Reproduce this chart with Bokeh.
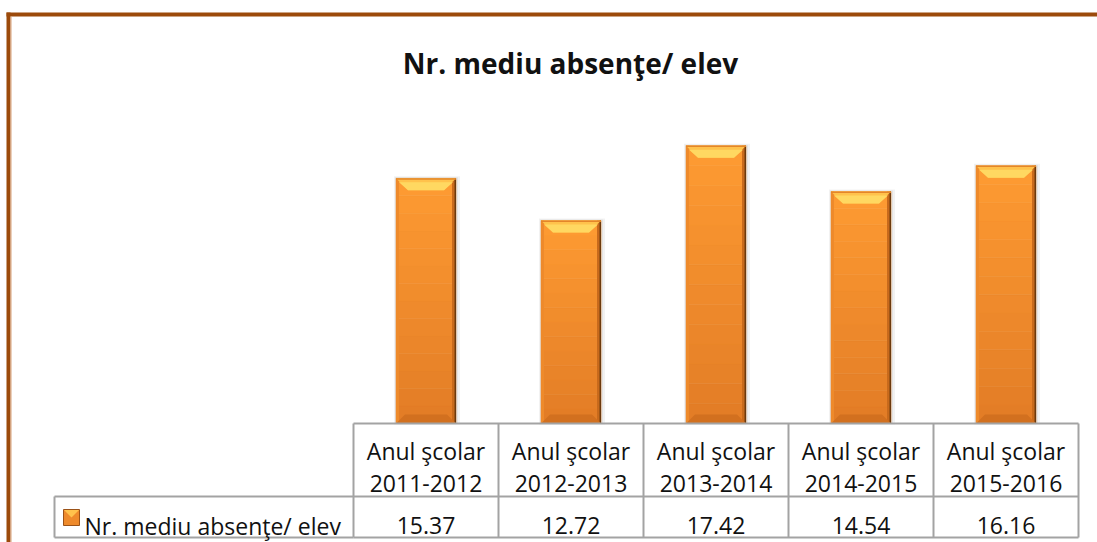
from bokeh.plotting import figure
from bokeh.models import Range1d
from bokeh.embed import file_html
from bokeh.resources import INLINE
from bokeh.core.properties import value

# ---------------- data ----------------
title_text = "Nr. mediu absenţe/ elev"
series_name = "Nr. mediu absenţe/ elev"
category_line1 = ["Anul şcolar", "Anul şcolar", "Anul şcolar", "Anul şcolar", "Anul şcolar"]
category_years = ["2011-2012", "2012-2013", "2013-2014", "2014-2015", "2015-2016"]
values = [15.37, 12.72, 17.42, 14.54, 16.16]
value_labels = ["15.37", "12.72", "17.42", "14.54", "16.16"]

# ---------------- layout (canvas pixels) ----------------
W, H = 1097, 542
COL_LEFT = 353      # left edge of first category column
COL_W = 145         # width of one category column
BASE_Y = 423        # pixel row of value 0
PX_PER_UNIT = 15.95
FONT = "Open Sans"
n = len(values)

p = figure(width=W, height=H, output_backend="svg", toolbar_location=None,
           x_range=Range1d(0, W), y_range=Range1d(H, 0),
           x_axis_type=None, y_axis_type=None, min_border=0,
           min_border_left=0, min_border_right=0, min_border_top=0, min_border_bottom=0)
p.grid.visible = False
p.outline_line_color = None
p.background_fill_color = "white"
p.border_fill_color = "white"

p.extra_x_ranges = {"cat": Range1d(-COL_LEFT / COL_W, (W - COL_LEFT) / COL_W)}
p.extra_y_ranges = {"val": Range1d(-(H - BASE_Y) / PX_PER_UNIT, BASE_Y / PX_PER_UNIT)}

# ---------------- frame border ----------------
p.quad(left=6, right=W, top=12, bottom=16, fill_color="#9C4A0B", line_color=None)
p.quad(left=6, right=10, top=12, bottom=H, fill_color="#9C4A0B", line_color=None)
p.segment(x0=10.5, y0=16, x1=10.5, y1=H, line_color="#D8A27A", line_width=1)

# ---------------- bars ----------------
xs = [i + 0.5 for i in range(n)]
BW = 60 / COL_W
ux = 1 / COL_W          # one pixel in category units
uy = 1 / PX_PER_UNIT    # one pixel in value units
x0s = [x - BW / 2 for x in xs]
x1s = [x + BW / 2 for x in xs]

# soft shadow
p.quad(left=[a - 2 * ux for a in x0s], right=[b + 4 * ux for b in x1s], top=[v + 2 * uy for v in values],
       bottom=[-1 * uy] * n, fill_color="black", fill_alpha=0.05, line_color=None,
       x_range_name="cat", y_range_name="val")
p.quad(left=[a - 1 * ux for a in x0s], right=[b + 2 * ux for b in x1s], top=[v + 1 * uy for v in values],
       bottom=[0] * n, fill_color="black", fill_alpha=0.06, line_color=None,
       x_range_name="cat", y_range_name="val")

# body with vertical gradient
top_c = (0xFE, 0x9B, 0x32)
bot_c = (0xE2, 0x7C, 0x26)
NS = 14
for k in range(NS):
    t = (k + 0.5) / NS
    c = tuple(int(round(bot_c[j] + (top_c[j] - bot_c[j]) * t)) for j in range(3))
    col = "#%02X%02X%02X" % c
    p.quad(left=x0s, right=x1s, bottom=[v * k / NS for v in values], top=[v * (k + 1) / NS for v in values],
           fill_color=col, line_color=col, line_width=0.5, x_range_name="cat", y_range_name="val")

# side bevels
p.quad(left=x0s, right=[a + 3 * ux for a in x0s], bottom=[0] * n, top=values,
       fill_color="#EE8A2B", line_color=None, x_range_name="cat", y_range_name="val")
p.quad(left=[b - 4 * ux for b in x1s], right=x1s, bottom=[0] * n, top=values,
       fill_color="#C86A1C", line_color=None, x_range_name="cat", y_range_name="val")
p.segment(x0=[b - 0.7 * ux for b in x1s], x1=[b - 0.7 * ux for b in x1s], y0=[0] * n, y1=values,
          line_color="#6B3A0E", line_width=1.5, x_range_name="cat", y_range_name="val")

# bottom bevel
BB = 9
p.patches(xs=[[a, b, b - BB * ux, a + BB * ux] for a, b in zip(x0s, x1s)],
          ys=[[0, 0, BB * uy, BB * uy] for _ in values],
          fill_color="#D2701F", line_color=None, x_range_name="cat", y_range_name="val")

# top bevel
TB = 12
p.patches(xs=[[a, b, b - TB * ux, a + TB * ux] for a, b in zip(x0s, x1s)],
          ys=[[v, v, v - TB * uy, v - TB * uy] for v in values],
          fill_color="#FFC24C", line_color=None, x_range_name="cat", y_range_name="val")
p.patches(xs=[[a + 3 * ux, b - 3 * ux, b - TB * ux, a + TB * ux] for a, b in zip(x0s, x1s)],
          ys=[[v - 4 * uy, v - 4 * uy, v - TB * uy, v - TB * uy] for v in values],
          fill_color="#FFD861", line_color=None, x_range_name="cat", y_range_name="val")
p.segment(x0=x0s, x1=x1s, y0=[v - 0.6 * uy for v in values], y1=[v - 0.6 * uy for v in values],
          line_color="#E3862A", line_width=1.5, x_range_name="cat", y_range_name="val")

# ---------------- data table ----------------
HDR_TOP, ROW_MID, ROW_BOT = BASE_Y, 496, 537
LEG_LEFT = 54
GRID = "#A3A3A3"
# vertical lines between category columns
p.segment(x0=list(range(n + 1)), x1=list(range(n + 1)), y0=[HDR_TOP] * (n + 1), y1=[ROW_BOT] * (n + 1),
          line_color=GRID, line_width=2, x_range_name="cat")
# horizontal lines across category columns
p.segment(x0=[0, 0, 0], x1=[n, n, n], y0=[HDR_TOP, ROW_MID, ROW_BOT], y1=[HDR_TOP, ROW_MID, ROW_BOT],
          line_color=GRID, line_width=2, x_range_name="cat")
# legend cell
p.segment(x0=[LEG_LEFT, LEG_LEFT, LEG_LEFT], x1=[LEG_LEFT, COL_LEFT, COL_LEFT],
          y0=[ROW_MID, ROW_MID, ROW_BOT], y1=[ROW_BOT, ROW_MID, ROW_BOT],
          line_color=GRID, line_width=2)

TXT = dict(text_font=value(FONT), text_font_size="23px", text_color="#111111",
           text_align="center", text_baseline="alphabetic", x_range_name="cat")
p.text(x=xs, y=[450] * n, text=category_line1, **TXT)
p.text(x=xs, y=[483] * n, text=category_years, **TXT)
p.text(x=xs, y=[525] * n, text=value_labels, **TXT)

# legend key
p.quad(left=63, right=79, top=509, bottom=525, fill_color="#EE8A2B", line_color="#9A5218", line_width=1)
p.patch(x=[63.5, 78.5, 71], y=[509.5, 509.5, 517], fill_color="#FFC24C", line_color=None)
p.text(x=[84], y=[525], text=[series_name], text_font=value(FONT), text_font_size="23px",
       text_color="#111111", text_align="left", text_baseline="alphabetic")

# ---------------- title ----------------
p.text(x=[570], y=[62], text=[title_text], text_font=value(FONT), text_font_size="28px",
       text_font_style="bold", text_color="#111111", text_align="center", text_baseline="alphabetic")

open("out.html", "w").write(file_html(p, INLINE))
